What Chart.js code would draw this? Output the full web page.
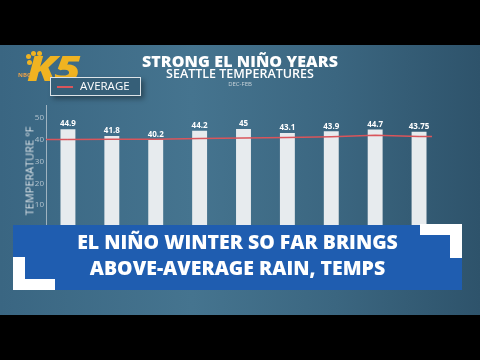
<!DOCTYPE html>
<html>
<head>
<meta charset="utf-8">
<script src="https://cdn.jsdelivr.net/npm/chart.js@4.4.0/dist/chart.umd.min.js"></script>
<style>
  html, body { margin: 0; padding: 0; }
  body { width: 480px; height: 360px; background: #000; position: relative; overflow: hidden; font-family: "Open Sans", "Liberation Sans", sans-serif; }
  #panel { position: absolute; left: 0; top: 45px; width: 480px; height: 270px;
    background: linear-gradient(90deg, #3a6682 0%, #45748f 40%, #3b6680 70%, #2e536b 100%); }
  #chartBox { position: absolute; left: 0; top: 0; width: 480px; height: 360px; }
  .txt { position: absolute; color: #fff; white-space: nowrap; }
  #title { left: 0; width: 480px; top: 50px; text-align: center; font-weight: 800; font-size: 16px; letter-spacing: 0.1px; }
  #sub { left: 0; width: 480px; top: 65px; text-align: center; font-weight: 600; font-size: 12.5px; }
  #dec { left: 0; width: 480px; top: 80px; text-align: center; font-size: 6px; color: #c9d4db; }
  #legend { position: absolute; left: 50px; top: 77px; width: 89px; height: 17px; border: 1.5px solid #dde4e8;
    background: #365f78; box-shadow: 3px 3px 5px rgba(0,0,0,0.35); }
  #legend .sw { position: absolute; left: 6px; top: 8px; width: 16px; height: 2px; background: #d9555b; }
  #legend .lb { position: absolute; left: 29px; top: 0px; font-size: 11.5px; color: #fff; }
  #ytitle { left: 29px; top: 171px; font-size: 11px; color: #d8e0e5; transform: translate(-50%, -50%) rotate(-90deg); }
  #logo { left: 27px; top: 43px; font-size: 36px; font-weight: 800; font-style: italic; color: #f0b321; letter-spacing: -2px;
    transform: scaleX(1.25); transform-origin: left top; }
  .dot { position: absolute; width: 5px; height: 5px; border-radius: 50%; background: #f0b321; }
  #nbc { left: 18px; top: 71px; font-size: 6px; font-weight: 700; color: #e8a04a; }
  #banner { position: absolute; left: 13px; top: 225px; width: 449px; height: 65px; background: #1f5db0; }
  .bl { left: 0; width: 449px; text-align: center; font-weight: 800; font-size: 19.5px; color: #fff; }
  .wb { position: absolute; background: #fff; }
</style>
</head>
<body>
<div id="panel"></div>
<div id="chartBox"><canvas id="c" width="480" height="360"></canvas></div>
<div class="dot" style="left:26px; top:54px;"></div>
<div class="dot" style="left:31px; top:51px;"></div>
<div class="dot" style="left:37px; top:51px;"></div>
<div class="dot" style="left:27px; top:60px;"></div>
<div class="txt" id="logo">K5</div>
<div class="txt" id="nbc">NBC</div>
<div class="txt" id="title">STRONG EL NIÑO YEARS</div>
<div class="txt" id="sub">SEATTLE TEMPERATURES</div>
<div class="txt" id="dec">DEC-FEB</div>
<div id="legend"><div class="sw"></div><div class="txt lb">AVERAGE</div></div>
<div class="txt" id="ytitle">TEMPERATURE °F</div>
<div id="banner">
  <div class="txt bl" style="top: 3px;">EL NIÑO WINTER SO FAR BRINGS</div>
  <div class="txt bl" style="top: 29px;">ABOVE-AVERAGE RAIN, TEMPS</div>
</div>
<div class="wb" style="left:13px; top:257px; width:12px; height:33px;"></div>
<div class="wb" style="left:13px; top:279px; width:42px; height:11px;"></div>
<div class="wb" style="left:420px; top:224px; width:42px; height:11px;"></div>
<div class="wb" style="left:450px; top:224px; width:12px; height:34px;"></div>
<script>
// winters (hidden under the banner)
const winters = ['1957-58', '1965-66', '1972-73', '1982-83', '1987-88', '1991-92', '1997-98', '2009-10', '2015-16'];
const temps = [44.9, 41.8, 40.2, 44.2, 45, 43.1, 43.9, 44.7, 43.75];
const tempLabels = ['44.9', '41.8', '40.2', '44.2', '45', '43.1', '43.9', '44.7', '43.75'];
const average = [40.2, 40.3, 40.3, 40.6, 40.9, 41.1, 41.4, 42.1, 41.5];
const yTicks = [10, 20, 30, 40, 50];

// value labels on top of bars, plus the average line running out to the axis
const extras = {
    id: 'extras',
    afterDatasetsDraw(chart) {
        const ctx = chart.ctx;
        const area = chart.chartArea;
        const y = chart.scales.y;
        const line = chart.getDatasetMeta(0).data;
        ctx.save();
        ctx.strokeStyle = '#d9555b';
        ctx.lineWidth = 1.5;
        ctx.beginPath();
        ctx.moveTo(area.left, y.getPixelForValue(average[0]));
        ctx.lineTo(line[0].x, line[0].y);
        ctx.moveTo(line[line.length - 1].x, line[line.length - 1].y);
        ctx.lineTo(area.right - 9, y.getPixelForValue(average[average.length - 1]));
        ctx.stroke();

        const bars = chart.getDatasetMeta(1).data;
        ctx.fillStyle = '#ffffff';
        ctx.font = 'bold 8px "Open Sans", sans-serif';
        ctx.textAlign = 'center';
        ctx.textBaseline = 'bottom';
        bars.forEach(function (bar, i) {
            ctx.fillText(tempLabels[i], bar.x, bar.y - 1);
        });
        ctx.restore();
    }
};

new Chart(document.getElementById('c'), {
    data: {
        labels: winters,
        datasets: [{
            type: 'line',
            label: 'Average',
            data: average,
            borderColor: '#d9555b',
            borderWidth: 1.5,
            pointRadius: 0,
            tension: 0,
            order: 0
        }, {
            type: 'bar',
            label: 'Temperature',
            data: temps,
            backgroundColor: '#e7ebee',
            barPercentage: 0.68,
            categoryPercentage: 0.5,
            order: 1
        }]
    },
    options: {
        responsive: false,
        animation: false,
        layout: { padding: { left: 26, right: 39, top: 105, bottom: 133 } },
        plugins: { legend: { display: false }, tooltip: { enabled: false } },
        scales: {
            x: {
                grid: { display: false },
                border: { color: '#9fb3c0', width: 1 },
                ticks: { display: false },
                afterFit: function (s) { s.height = 0; }
            },
            y: {
                min: 0,
                max: 56,
                grid: { display: false, drawTicks: false },
                border: { color: '#9fb3c0', width: 1 },
                afterFit: function (s) { s.width = 20; },
                afterBuildTicks: function (s) { s.ticks = yTicks.map(v => ({ value: v })); },
                ticks: {
                    color: '#b4c4cf',
                    font: { size: 8, family: 'Open Sans' },
                    padding: 2
                }
            }
        }
    },
    plugins: [extras]
});
</script>
</body>
</html>
